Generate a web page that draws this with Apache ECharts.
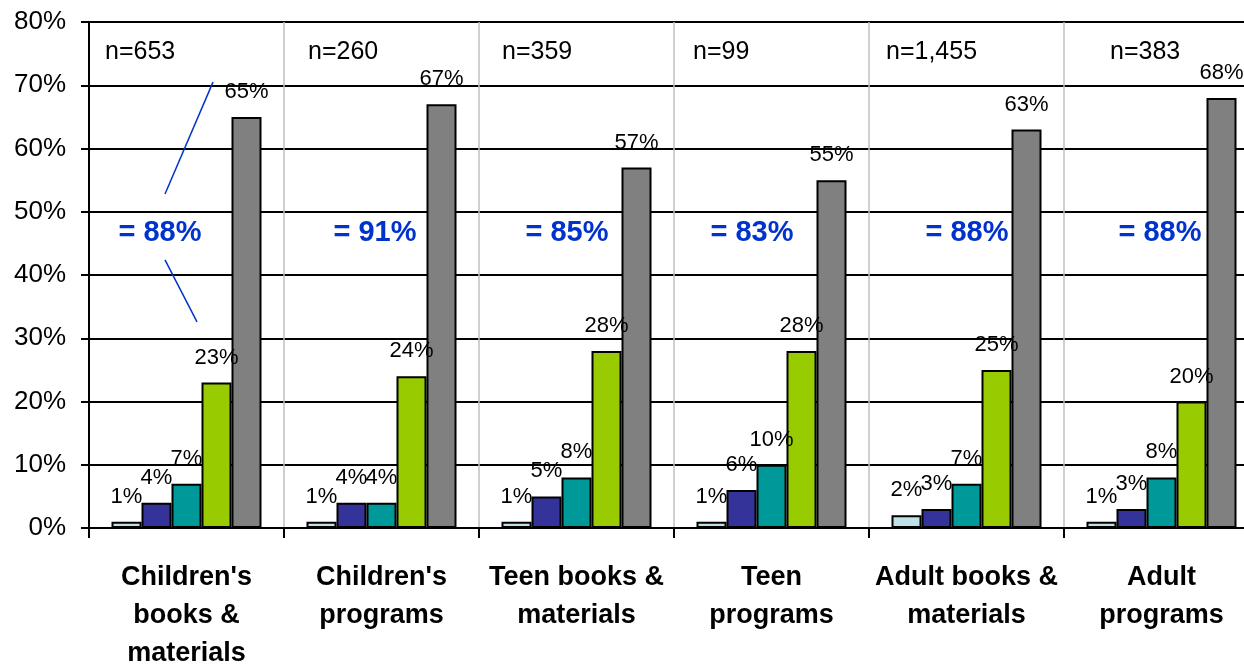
<!DOCTYPE html>
<html>
<head>
<meta charset="utf-8">
<script src="https://cdn.jsdelivr.net/npm/echarts@6/dist/echarts.min.js"></script>
<style>
html,body{margin:0;padding:0;background:#fff;}
#chart{width:1244px;height:666px;}
</style>
</head>
<body>
<div id="chart"></div>
<script>
// ---- data ----
const categories = ["Children's\nbooks &\nmaterials", "Children's\nprograms", "Teen books &\nmaterials", "Teen\nprograms", "Adult books &\nmaterials", "Adult\nprograms"];
const level1 = [1, 1, 1, 1, 2, 1];
const level2 = [4, 4, 5, 6, 3, 3];
const level3 = [7, 4, 8, 10, 7, 8];
const level4 = [23, 24, 28, 28, 25, 20];
const level5 = [65, 67, 57, 55, 63, 68];
const sampleSizes = ["n=653", "n=260", "n=359", "n=99", "n=1,455", "n=383"];
const topTwoTotals = ["= 88%", "= 91%", "= 85%", "= 83%", "= 88%", "= 88%"];
const yTicks = [0, 10, 20, 30, 40, 50, 60, 70, 80];

// ---- layout/style (not data) ----
const nOffsetsX = [-81.5, -73.5, -74.5, -78.5, -80.5, -51.5];
const totalOffsetsX = [-26.5, -6.5, -9.5, -19.5, 0.5, -1.5];
const colors = ['#BDE3E8', '#333399', '#009999', '#99CC00', '#808080'];
const FONT = '"Liberation Sans", Arial, sans-serif';

const chart = echarts.init(document.getElementById('chart'), null, {renderer: 'canvas'});

function barSeries(name, data, color) {
  return {
    name: name, type: 'bar', data: data, barWidth: 30, barGap: '0%', z: 3,
    itemStyle: {color: color, borderColor: '#000', borderWidth: 2},
    label: {show: true, position: 'top', distance: 14, formatter: '{c}%',
            color: '#000', fontSize: 22, fontFamily: FONT}
  };
}

const option = {
  animation: false,
  backgroundColor: '#fff',
  grid: {left: 89, top: 22, width: 1170, height: 506, containLabel: false, outerBoundsMode: 'none'},
  xAxis: {
    type: 'category', data: categories,
    axisLine: {lineStyle: {color: '#000', width: 2}},
    axisTick: {show: true, length: 10, lineStyle: {color: '#000', width: 2}},
    splitLine: {show: true, lineStyle: {color: '#c0c0c0', width: 1.5}},
    axisLabel: {interval: 0, color: '#000', fontSize: 27, fontWeight: 'bold',
                fontFamily: FONT, lineHeight: 38, margin: 31}
  },
  yAxis: {
    type: 'value', min: yTicks[0], max: yTicks[yTicks.length - 1], interval: 10,
    axisLine: {show: true, lineStyle: {color: '#000', width: 2}},
    axisTick: {show: true, length: 8, lineStyle: {color: '#000', width: 2}},
    splitLine: {show: true, lineStyle: {color: '#000', width: 2}},
    axisLabel: {formatter: '{value}%', color: '#000', fontSize: 26, fontFamily: FONT, margin: 23}
  },
  series: [
    barSeries('Rating 1', level1, colors[0]),
    barSeries('Rating 2', level2, colors[1]),
    barSeries('Rating 3', level3, colors[2]),
    barSeries('Rating 4', level4, colors[3]),
    barSeries('Rating 5', level5, colors[4]),
    {
      name: 'n', type: 'scatter', symbolSize: 1, z: 1, silent: true,
      itemStyle: {color: 'rgba(0,0,0,0)', opacity: 1},
      data: sampleSizes.map((t, i) => ({value: [i, 75.3],
        label: {offset: [nOffsetsX[i], 0]}})),
      label: {show: true, position: 'inside', align: 'left', verticalAlign: 'middle',
              formatter: p => sampleSizes[p.dataIndex],
              color: '#000', fontSize: 25, fontFamily: FONT}
    },
    {
      name: 'total', type: 'scatter', symbolSize: 1, z: 1, silent: true,
      itemStyle: {color: 'rgba(0,0,0,0)', opacity: 1},
      data: topTwoTotals.map((t, i) => ({value: [i, 46.6],
        label: {offset: [totalOffsetsX[i], 0]}})),
      label: {show: true, position: 'inside', align: 'center', verticalAlign: 'middle',
              formatter: p => topTwoTotals[p.dataIndex],
              color: '#0033CC', fontSize: 29, fontWeight: 'bold', fontFamily: FONT}
    }
  ]
};
chart.setOption(option);

// brace-like pointer lines in the first category (annotation)
const c0 = chart.convertToPixel({gridIndex: 0}, [0, 0]);
const p = (dx, v) => [c0[0] + dx, chart.convertToPixel({gridIndex: 0}, [0, v])[1]];
const a1 = p(26.5, 70.5), a2 = p(-21.5, 52.8), b1 = p(-21.5, 42.4), b2 = p(10.5, 32.6);
chart.setOption({
  graphic: [
    {type: 'line', z: 10, shape: {x1: a1[0], y1: a1[1], x2: a2[0], y2: a2[1]},
     style: {stroke: '#0033CC', lineWidth: 1.5}},
    {type: 'line', z: 10, shape: {x1: b1[0], y1: b1[1], x2: b2[0], y2: b2[1]},
     style: {stroke: '#0033CC', lineWidth: 1.5}}
  ]
});
</script>
</body>
</html>
